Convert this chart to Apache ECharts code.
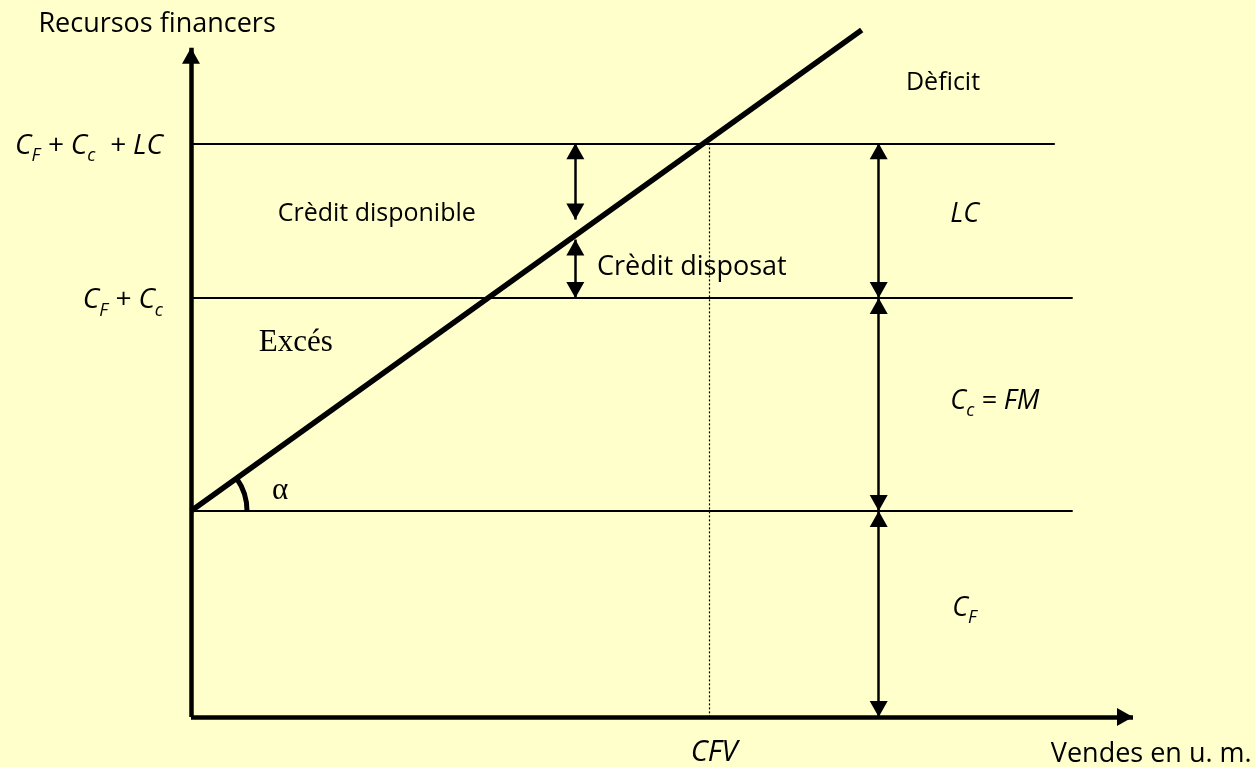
<!DOCTYPE html>
<html>
<head>
<meta charset="utf-8">
<script src="https://cdn.jsdelivr.net/npm/echarts@6/dist/echarts.min.js"></script>
<style>
  html, body { margin: 0; padding: 0; background: #ffffcc; }
  #chart { width: 1255px; height: 767px; }
</style>
</head>
<body>
<div id="chart"></div>
<script>
// resource levels (arbitrary units on a 0..100 scale)
const levelValues = [30, 61, 83.5];            // C_F, C_F + C_c, C_F + C_c + LC
const levelLineEnds = [93.6, 93.6, 91.7];
const tickValues = [61, 83.5];
const tickLabels = ["{i|C}{s|F}{i| + C}{s|c}", "{i|C}{s|F}{i| + C}{s|c}{i|  + LC}"];

const axisEnds = [100, 97.4];                   // x arrow tip, y arrow tip
const resourceLine = [[0, 30], [71.2, 100]];    // financial needs vs sales
const cfvValue = 55;

const leftArrowX = 40.8;
const leftArrowSpans = [[83.5, 72.4], [69.5, 61]];
const rightArrowX = 73;
const rightArrowSpans = [[83.5, 61], [61, 30], [30, 0]];

const noteTexts = [
  "Recursos financers", "Dèficit", "Crèdit disponible", "Crèdit disposat",
  "Excés", "α", "{n|LC}", "{n|C}{t|c}{n| = FM}", "{n|C}{t|F}", "Vendes en u. m."
];
const noteAnchors = [
  [-16.2, 100.9], [75.9, 92.3], [9.2, 73.2], [43.1, 65.4],
  [7.2, 54.4], [8.6, 32.9], [80.6, 73.2], [80.6, 45.9], [80.8, 15.8], [112.6, -5.4]
];
const noteKinds = ["sans27", "sans25", "sans25", "sans27", "serif", "serif", "ital", "ital", "ital", "sansRight"];

const SANS = "'Open Sans', sans-serif";
const SERIF = "'Liberation Serif', 'DejaVu Serif', serif";

const tickRich = {
  i: { fontFamily: SANS, fontStyle: "italic", fontSize: 28, lineHeight: 38, color: "#000" },
  s: { fontFamily: SANS, fontStyle: "italic", fontSize: 18, verticalAlign: "bottom", color: "#000" }
};
const noteRich = {
  n: { fontFamily: SANS, fontStyle: "italic", fontSize: 27, lineHeight: 36, color: "#000" },
  t: { fontFamily: SANS, fontStyle: "italic", fontSize: 18, verticalAlign: "bottom", color: "#000" }
};

const kindStyle = {
  sans25: { fontFamily: SANS, fontSize: 25, align: "left" },
  sans27: { fontFamily: SANS, fontSize: 27, align: "left" },
  serif: { fontFamily: SERIF, fontSize: 31, align: "left" },
  ital: { fontFamily: SANS, fontSize: 27, fontStyle: "italic", align: "left" },
  sansRight: { fontFamily: SANS, fontSize: 27, align: "right" }
};

const chart = echarts.init(document.getElementById("chart"), null, { renderer: "canvas" });

const seg = (a, b) => [{ coord: a }, { coord: b }];

function markGroup(name, data, width, opts){
  opts = opts || {};
  return {
    name, type: "line", data: [], silent: true, clip: false,
    markLine: {
      silent: true,
      animation: false,
      symbol: opts.symbol || ["none", "none"],
      symbolSize: [18, 16],
      symbolOffset: [[0, 8], [0, 8]],
      label: { show: false },
      emphasis: { disabled: true },
      lineStyle: { color: "#000", width, type: opts.type || "solid", opacity: 1 },
      data
    }
  };
}

const levelSegs = levelValues.map((v, i) => seg([0, v], [levelLineEnds[i], v]));
const axisSegs = [seg([0, 0], [axisEnds[0], 0]), seg([0, 0], [0, axisEnds[1]])];
const leftSegs = leftArrowSpans.map(s => seg([leftArrowX, s[0]], [leftArrowX, s[1]]));
const rightSegs = rightArrowSpans.map(s => seg([rightArrowX, s[0]], [rightArrowX, s[1]]));
const cfvSeg = [seg([cfvValue, levelValues[2]], [cfvValue, 0])];
const lineSeg = [seg(resourceLine[0], resourceLine[1])];

const notes = noteTexts.map((t, i) => ({
  name: t,
  value: noteAnchors[i],
  label: Object.assign({ color: "#000", opacity: 1, textBorderWidth: 0 }, kindStyle[noteKinds[i]])
}));

chart.setOption({
  animation: false,
  backgroundColor: "#ffffcc",
  grid: { left: 191, right: 122, top: 30, bottom: 49, containLabel: false },
  xAxis: {
    type: "value", min: 0, max: 100,
    axisLine: { show: false }, axisTick: { show: false }, splitLine: { show: false },
    axisLabel: {
      customValues: [cfvValue],
      formatter: () => "CFV",
      margin: 21,
      padding: [0, 0, 0, 10],
      color: "#000",
      fontFamily: SANS, fontStyle: "italic", fontSize: 29
    }
  },
  yAxis: {
    type: "value", min: 0, max: 100,
    axisLine: { show: false }, axisTick: { show: false }, splitLine: { show: false },
    axisLabel: {
      customValues: tickValues,
      formatter: v => tickLabels[tickValues.indexOf(v)],
      margin: 28,
      padding: [5, 0, 0, 0],
      color: "#000",
      rich: tickRich
    }
  },
  series: [
    markGroup("levels", levelSegs, 2),
    markGroup("cfv", cfvSeg, 1.2, { type: [2, 2] }),
    markGroup("axes", axisSegs, 4.5, { symbol: ["none", "triangle"] }),
    markGroup("leftArrows", leftSegs, 2.5, { symbol: ["triangle", "triangle"] }),
    markGroup("rightArrows", rightSegs, 2.5, { symbol: ["triangle", "triangle"] }),
    markGroup("resources", lineSeg, 5.5),
    {
      name: "notes", type: "scatter", symbolSize: 0, silent: true, clip: false,
      itemStyle: { opacity: 1 },
      label: {
        show: true, position: [0, 0], verticalAlign: "middle", color: "#000",
        formatter: p => p.name,
        rich: noteRich
      },
      data: notes
    }
  ]
});

// angle mark between the fixed-cost level and the resource line
const o = chart.convertToPixel({ gridIndex: 0 }, resourceLine[0]);
const e = chart.convertToPixel({ gridIndex: 0 }, resourceLine[1]);
const ang = Math.atan2(e[1] - o[1], e[0] - o[0]);
chart.setOption({
  graphic: [{
    type: "arc", silent: true, z: 100,
    shape: { cx: o[0], cy: o[1], r: 56, startAngle: ang, endAngle: 0, clockwise: true },
    style: { stroke: "#000", lineWidth: 5, fill: null }
  }]
});
</script>
</body>
</html>
